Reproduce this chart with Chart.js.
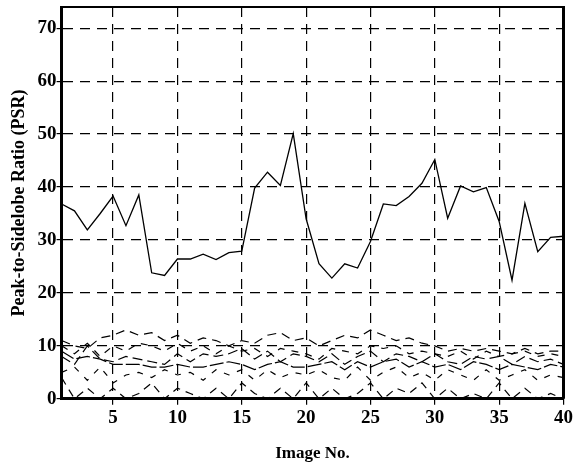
<!DOCTYPE html>
<html>
<head>
<meta charset="utf-8">
<script src="https://cdn.jsdelivr.net/npm/chart.js@4"></script>
<style>
  body { margin: 0; background: #fff; }
  canvas { display: block; }
</style>
</head>
<body>
<canvas id="chartPsr" width="575" height="468"></canvas>
<script>
// datos
const imageNo = Array.from({ length: 40 }, (_, i) => i + 1);
const xTicks = [5, 10, 15, 20, 25, 30, 35, 40];
const yTicks = [0, 10, 20, 30, 40, 50, 60, 70];

// PSR de la clase verdadera (línea continua)
const psrTrue = [36.8, 35.5, 31.9, 35.0, 38.3, 32.7, 38.5, 23.8, 23.3, 26.4,
                 26.4, 27.3, 26.3, 27.6, 27.9, 39.8, 42.8, 40.3, 50.1, 34.0,
                 25.5, 22.8, 25.5, 24.7, 29.7, 36.8, 36.5, 38.2, 40.7, 45.2,
                 34.1, 40.2, 39.1, 39.9, 33.5, 22.4, 36.9, 27.8, 30.5, 30.7];

// PSR de impostores (líneas discontinuas)
const psrImpA = [11, 10, 9.5, 11.5, 12, 13, 12, 12.5, 11, 12, 10.5, 11.5, 11, 10, 11, 10.5, 12, 12.5, 11, 11.5,
                 10, 11, 12, 11.5, 13, 12, 11, 11.5, 10.5, 10, 9, 9.5, 9, 9.5, 9, 8.5, 9.5, 8.5, 9, 9];
const psrImpB = [10, 8.5, 10.5, 8, 10, 9, 10.5, 10, 9, 10.5, 9, 10, 8.5, 10, 9, 9.5, 8, 9.5, 9, 8.5,
                 7.5, 9.5, 9, 8.5, 10, 9.5, 10, 8.5, 9, 8.5, 8, 9, 7.5, 9, 8, 8.5, 9, 8, 8.5, 8];
const psrImpC = [8, 6.5, 10, 7.5, 7, 8, 7.5, 7, 6.5, 8.5, 7, 8.5, 8, 8.5, 9.5, 7.5, 9, 7, 8.5, 8,
                 7, 8.5, 6.5, 8, 9, 7, 8.5, 8, 7, 8.5, 7, 6.5, 8, 7.5, 8, 6.5, 8, 7, 7.5, 6.5];
const psrImpD = [9, 7.5, 8, 7.5, 6.5, 6.5, 6.5, 6, 6, 6.5, 6, 6, 6.5, 7, 6.5, 5.5, 6.5, 7, 6, 6,
                 6.5, 7, 5.5, 7, 6, 7, 7.5, 6, 7, 6, 6.5, 5.5, 7, 6.5, 5.5, 6.5, 6, 5.5, 6.5, 6];
const psrImpE = [5, 6, 3.5, 6, 3, 4.5, 5, 4, 5.5, 4.5, 5, 3.5, 5.5, 4.5, 5.5, 3.5, 5.5, 4, 5, 4.5,
                 5.5, 4, 3.5, 6, 3.5, 5, 6, 4, 5, 3.5, 5.5, 4.5, 3.5, 5.5, 3.5, 4.5, 5.5, 3.5, 4.5, 4];
const psrImpF = [4, 0, 2, 0, 2, 0, 1, 3, 0, 2, 1, 0, 2, 0, 3, 1, 0, 2, 0, 3,
                 0, 2, 0, 1, 3, 0, 2, 1, 3, 0, 2, 0, 1, 0, 3, 0, 2, 0, 1, 0];

const serif = '"Liberation Serif", "Times New Roman", serif';

function serie(data, dash, width) {
  return {
    data: data.map((v, i) => ({ x: imageNo[i], y: v })),
    borderColor: '#000', borderWidth: width, borderDash: dash,
    pointRadius: 0, tension: 0, fill: false
  };
}

// marco del área del gráfico
const frame = {
  id: 'frame',
  afterDraw(chart) {
    const { ctx, chartArea: a } = chart;
    ctx.save();
    ctx.strokeStyle = '#000';
    ctx.setLineDash([]);
    ctx.lineWidth = 2;
    ctx.beginPath(); ctx.moveTo(a.left, a.top); ctx.lineTo(a.right, a.top); ctx.stroke();
    ctx.lineWidth = 3;
    ctx.beginPath(); ctx.moveTo(a.right, a.top - 1); ctx.lineTo(a.right, a.bottom); ctx.stroke();
    ctx.restore();
  }
};

new Chart(document.getElementById('chartPsr').getContext('2d'), {
  type: 'line',
  data: {
    datasets: [
      serie(psrTrue, [], 1.3),
      serie(psrImpA, [9, 6], 1.2),
      serie(psrImpB, [7, 7], 1.2),
      serie(psrImpC, [10, 5], 1.2),
      serie(psrImpD, [14, 3], 1.2),
      serie(psrImpE, [6, 8], 1.2),
      serie(psrImpF, [8, 6], 1.2)
    ]
  },
  options: {
    responsive: false, animation: false,
    layout: { padding: { top: 7, right: 0, left: 9, bottom: 4 } },
    plugins: { legend: { display: false }, tooltip: { enabled: false } },
    scales: {
      x: {
        type: 'linear', min: 1, max: 40,
        afterBuildTicks: s => { s.ticks = xTicks.map(v => ({ value: v })); },
        grid: { color: '#000', lineWidth: 1.2, tickLength: 6, drawTicks: true, tickColor: '#000' },
        border: { color: '#000', width: 3, dash: [10, 7] },
        ticks: { color: '#000', font: { family: serif, size: 19, weight: 'bold' }, padding: 2, maxRotation: 0 },
        title: { display: true, text: 'Image No.', color: '#000', font: { family: serif, size: 17, weight: 'bold' }, padding: { top: 12, bottom: 0 } }
      },
      y: {
        min: 0, max: 74,
        afterBuildTicks: s => { s.ticks = yTicks.map(v => ({ value: v })); },
        grid: { color: '#000', lineWidth: 1.2, tickLength: 5, drawTicks: true, tickColor: '#000' },
        border: { color: '#000', width: 3, dash: [10, 7] },
        ticks: { color: '#000', font: { family: serif, size: 19, weight: 'bold', lineHeight: 0.6 }, padding: 0 },
        title: { display: true, text: 'Peak-to-Sidelobe Ratio (PSR)', color: '#000', font: { family: serif, size: 18, weight: 'bold' }, padding: { top: 0, bottom: 7 } }
      }
    }
  },
  plugins: [frame]
});
</script>
</body>
</html>
